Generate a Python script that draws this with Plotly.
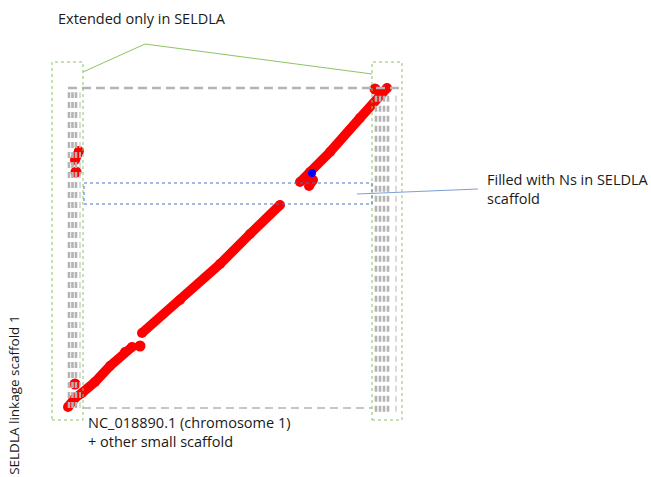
import plotly.graph_objects as go

# Dot-plot alignment of SELDLA linkage scaffold 1 (y) vs NC_018890.1 + small scaffolds (x)
# values in % of the aligned length
seg_a_x = [0.0, 2.12, 4.24, 8.18, 12.73, 17.27, 19.39]
seg_a_y = [0.0, 2.82, 4.39, 7.84, 12.85, 17.24, 18.81]
seg_b_x = [22.42, 33.94, 46.06, 55.15, 64.24]
seg_b_y = [23.20, 33.54, 44.83, 54.23, 63.32]
seg_c_x = [70.30, 73.33, 79.39, 88.48, 96.67]
seg_c_y = [70.53, 73.67, 79.94, 90.60, 100.0]
hook_x = [73.03, 74.24]
hook_y = [69.28, 71.16]
left_x = [3.33, 2.12]
left_y = [80.25, 77.43]
dots_x = [21.82, 2.12, 2.42, 93.03]
dots_y = [19.12, 7.21, 73.67, 99.69]
blue_x = [73.94]
blue_y = [73.35]

# decoration: columns of small scaffolds (x positions)
left_cols = [0.30, 1.36, 2.42]
left_thin = [3.64]
right_cols = [93.33, 94.55, 95.76, 96.97]
right_thin = [99.39]

RED = "#ff0000"
fig = go.Figure()

shapes = []
gray = "#b4b4b4"
for c in left_cols:
    shapes.append(dict(type="line", x0=c, x1=c, y0=-0.3, y1=98.7,
                       line=dict(color=gray, width=2.6, dash="6px,4px")))
for c in left_thin:
    shapes.append(dict(type="line", x0=c, x1=c, y0=-0.3, y1=98.7,
                       line=dict(color="#cfcfcf", width=1.5, dash="6px,4px")))
for c in right_cols:
    shapes.append(dict(type="line", x0=c, x1=c, y0=-1.5, y1=98.7,
                       line=dict(color=gray, width=2.6, dash="6px,4px")))
for c in right_thin:
    shapes.append(dict(type="line", x0=c, x1=c, y0=-1.5, y1=98.7,
                       line=dict(color="#cfcfcf", width=1.5, dash="6px,4px")))
# top and bottom dashed borders
shapes.append(dict(type="line", x0=0, x1=100.6, y0=100, y1=100,
                   line=dict(color=gray, width=2.5, dash="9px,5px")))
shapes.append(dict(type="line", x0=4.55, x1=92.12, y0=-0.31, y1=-0.31,
                   line=dict(color=gray, width=1.5, dash="8px,5px")))
# green dotted boxes
green = "#8cc464"
shapes.append(dict(type="rect", x0=-4.85, x1=4.55, y0=-4.08, y1=108.15,
                   line=dict(color=green, width=1, dash="dot")))
shapes.append(dict(type="rect", x0=92.12, x1=101.21, y0=-4.08, y1=108.15,
                   line=dict(color=green, width=1, dash="dot")))
shapes.append(dict(type="path", path="M 4.55 105.02 L 23.33 113.79 L 92.12 104.39",
                   line=dict(color=green, width=1)))
# blue dotted rectangle and leader
shapes.append(dict(type="rect", x0=4.85, x1=92.12, y0=63.64, y1=70.22,
                   line=dict(color="#4472c4", width=1, dash="dot")))
shapes.append(dict(type="line", x0=87.58, x1=124.24, y0=66.77, y1=68.34,
                   line=dict(color="#7f9fd4", width=1)))

for xs, ys in [(seg_a_x, seg_a_y), (seg_b_x, seg_b_y), (seg_c_x, seg_c_y),
               (hook_x, hook_y), (left_x, left_y)]:
    fig.add_trace(go.Scatter(x=xs, y=ys, mode="lines+markers",
                             line=dict(color=RED, width=9.5),
                             marker=dict(color=RED, size=10),
                             showlegend=False, hoverinfo="skip"))
fig.add_trace(go.Scatter(x=dots_x, y=dots_y, mode="markers",
                         marker=dict(color=RED, size=11),
                         showlegend=False, hoverinfo="skip"))
fig.add_trace(go.Scatter(x=blue_x, y=blue_y, mode="markers",
                         marker=dict(color="#0000ff", size=8),
                         showlegend=False, hoverinfo="skip"))

font = dict(family="Open Sans", size=14.5, color="#1a1a1a")
anns = [
    dict(x=-3.64, y=121.94, text="Extended only in SELDLA"),
    dict(x=5.45, y=-7.99, text="NC_018890.1 (chromosome 1)<br>+ other small scaffold"),
    dict(x=126.36, y=68.34, text="Filled with Ns in SELDLA<br>scaffold"),
]
annotations = [dict(a, xref="x", yref="y", xanchor="left", yanchor="middle",
                    align="left", showarrow=False, font=font) for a in anns]
annotations.append(dict(x=-16.36, y=3.5, xref="x", yref="y", text="SELDLA linkage scaffold 1",
                        textangle=-90, showarrow=False,
                        font=dict(family="Open Sans", size=13.5, color="#1a1a1a"),
                        xanchor="center", yanchor="middle"))

fig.update_layout(
    width=651, height=477,
    margin=dict(l=0, r=0, t=0, b=0),
    paper_bgcolor="white", plot_bgcolor="white",
    xaxis=dict(range=[-20.606, 176.667], visible=False, fixedrange=True),
    yaxis=dict(range=[-21.944, 127.586], visible=False, fixedrange=True),
    shapes=shapes, annotations=annotations,
)
fig.write_html("out.html", config={"displayModeBar": False},
               post_script="document.body.style.margin='0';document.body.style.overflow='hidden';")
